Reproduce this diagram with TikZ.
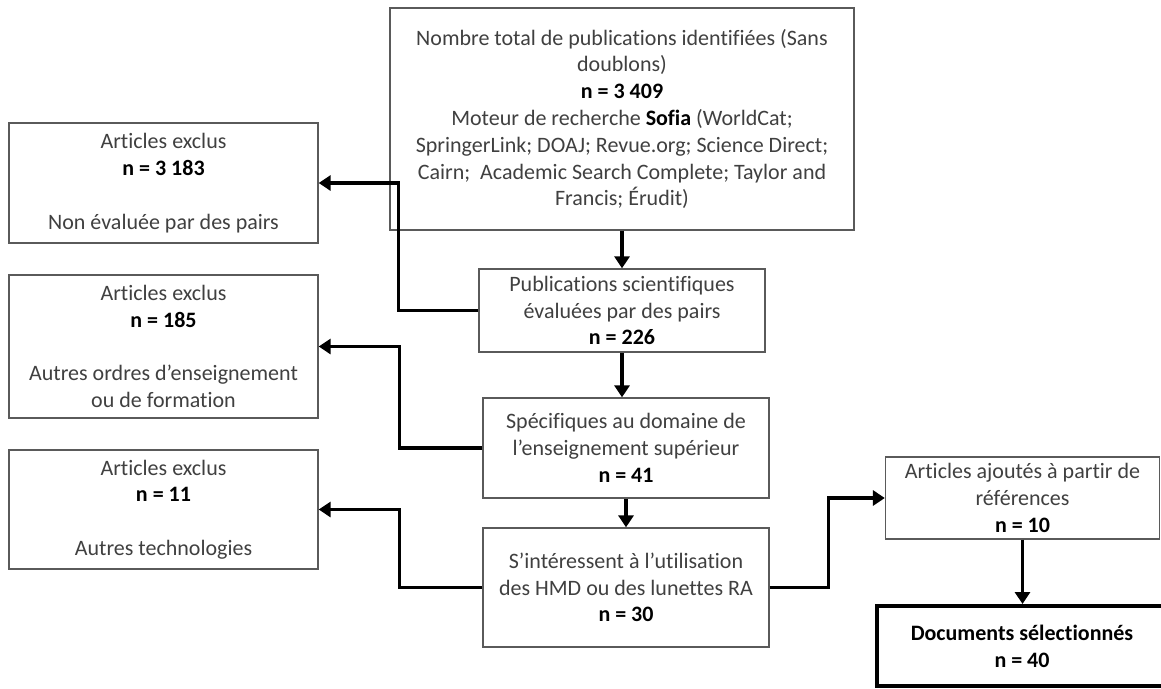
\documentclass[tikz,border=0pt]{standalone}
\usepackage{fontspec}
\setmainfont{Carlito}[Ligatures=NoCommon]
\usetikzlibrary{arrows.meta,calc}
\definecolor{boxgray}{HTML}{5A5A5A}
\definecolor{txtgray}{HTML}{404040}
\newcommand{\nbold}[1]{\textcolor{black}{\textbf{#1}}}
\begin{document}
\begin{tikzpicture}[x=1pt,y=-1pt,
  box/.style={draw=boxgray, line width=1.3pt, rectangle, align=center, inner sep=0pt,
    font=\fontsize{22}{26.8}\selectfont, text=txtgray},
  finalbox/.style={box, draw=black, line width=4pt, text=black},
  arr/.style={line width=3.4pt, black, -{Triangle[width=15pt,length=12pt]}},
]
\clip (0,0) rectangle (1161,688);
\fill[white] (0,0) rectangle (1161,688);

\node[box, minimum width=464pt, minimum height=222pt] (top) at (622,119)
  {Nombre total de publications identifiées (Sans\\doublons)\\\nbold{n = 3 409}\\Moteur de recherche \nbold{Sofia} (WorldCat;\\SpringerLink; DOAJ; Revue.org; Science Direct;\\Cairn;\ \ Academic Search Complete; Taylor and\\Francis; Érudit)};

\node[box, minimum width=309pt, minimum height=120pt] (ex1) at (163.5,183)
  {Articles exclus\\\nbold{n = 3 183}\\[26.8pt]Non évaluée par des pairs};
\node[box, minimum width=309pt, minimum height=143pt] (ex2) at (163.5,346.5)
  {Articles exclus\\\nbold{n = 185}\\[26.8pt]Autres ordres d'enseignement\\ou de formation};
\node[box, minimum width=309pt, minimum height=119pt] (ex3) at (163.5,509.5)
  {Articles exclus\\\nbold{n = 11}\\[26.8pt]Autres technologies};

\node[box, minimum width=286pt, minimum height=83pt] (pub) at (622,310.5)
  {Publications scientifiques\\évaluées par des pairs\\\nbold{n = 226}};
\node[box, minimum width=286pt, minimum height=100pt] (spec) at (626,448)
  {Spécifiques au domaine de\\l’enseignement supérieur\\\nbold{n = 41}};
\node[box, minimum width=286pt, minimum height=119pt] (hmd) at (626,587.5)
  {S’intéressent à l’utilisation\\des HMD ou des lunettes RA\\\nbold{n = 30}};

\node[box, minimum width=274pt, minimum height=82pt] (add) at (1022.5,498)
  {Articles ajoutés à partir de\\références\\\nbold{n = 10}};
\node[finalbox, minimum width=290pt, minimum height=80pt] (doc) at (1022,646)
  {\textbf{Documents sélectionnés}\\\textbf{n = 40}};

\draw[arr] (top.south) -- (pub.north);
\draw[arr] (pub.south) -- (pub.south |- spec.north);
\draw[arr] (spec.south) -- (spec.south |- hmd.north);
\draw[arr] (pub.west) -- ++(-80,0) |- (ex1.east);
\draw[arr] (spec.west) -- ++(-83,0) |- (ex2.east);
\draw[arr] (hmd.west) -- ++(-83,0) |- (ex3.east);
\draw[arr] (hmd.east) -- ++(59,0) |- (add.west);
\draw[arr] (add.south) -- (add.south |- doc.north);
\end{tikzpicture}
\end{document}
